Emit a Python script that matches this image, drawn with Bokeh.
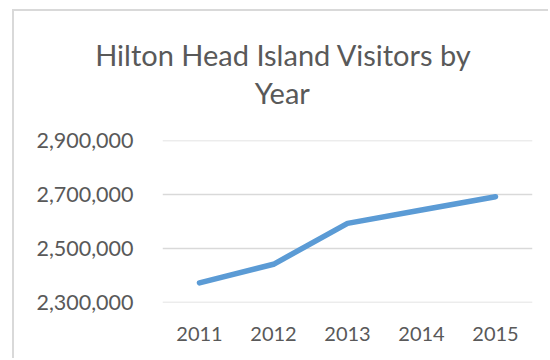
from bokeh.plotting import figure
from bokeh.models import (FactorRange, Range1d, NumeralTickFormatter, FixedTicker, Title)
from bokeh.embed import file_html
from bokeh.resources import INLINE

years = ["2011", "2012", "2013", "2014", "2015"]
visitors = [2372000, 2441000, 2593000, 2643000, 2692000]
y_ticks = [2300000, 2500000, 2700000, 2900000]
title_lines = ["Hilton Head Island Visitors by", "Year"]

FONT = "Lato"
TXT = "#595959"

p = figure(width=536, height=349, output_backend="svg", toolbar_location=None,
           x_range=FactorRange(*years, range_padding=0),
           y_range=Range1d(2299000, 2901000),
           min_border_left=148, min_border_right=18,
           min_border_top=129, min_border_bottom=58,
           styles={"margin-left": "12px", "margin-top": "9px",
                   "border-left": "2px solid #d9d9d9",
                   "border-top": "2px solid #d9d9d9"})
p.title.text = ""
p.title.visible = False
p.outline_line_color = None
p.background_fill_color = "white"
p.border_fill_color = "white"

p.line(years, visitors, line_color="#5b9bd5", line_width=5.5, line_cap="round",
       line_join="round")

p.yaxis.ticker = FixedTicker(ticks=y_ticks)
p.yaxis.formatter = NumeralTickFormatter(format="0,0")
for ax in (p.xaxis, p.yaxis):
    ax.axis_line_color = None
    ax.major_tick_line_color = None
    ax.minor_tick_line_color = None
    ax.major_tick_out = 0
    ax.major_tick_in = 0
    ax.major_label_text_font = FONT
    ax.major_label_text_color = TXT
p.yaxis.major_label_text_font_size = "21.5px"
p.xaxis.major_label_text_font_size = "20px"
p.yaxis.major_label_standoff = 29
p.xaxis.major_label_standoff = 24

p.xgrid.grid_line_color = None
p.ygrid.grid_line_color = "#d9d9d9"
p.ygrid.grid_line_width = 1.6

# spacer between the plot area and the two-line title
p.add_layout(Title(text=" ", text_font_size="10px", standoff=18), "above")
# title lines: "Year" (inner) first, then the first line (outer)
p.add_layout(Title(text=title_lines[1], align="left", offset=92.2, standoff=0,
                   text_font=FONT, text_font_size="29px",
                   text_font_style="normal", text_color=TXT), "above")
p.add_layout(Title(text=title_lines[0], align="left", offset=-67.3, standoff=1,
                   text_font=FONT, text_font_size="29px",
                   text_font_style="normal", text_color=TXT), "above")

open("out.html", "w").write(file_html(p, INLINE))
